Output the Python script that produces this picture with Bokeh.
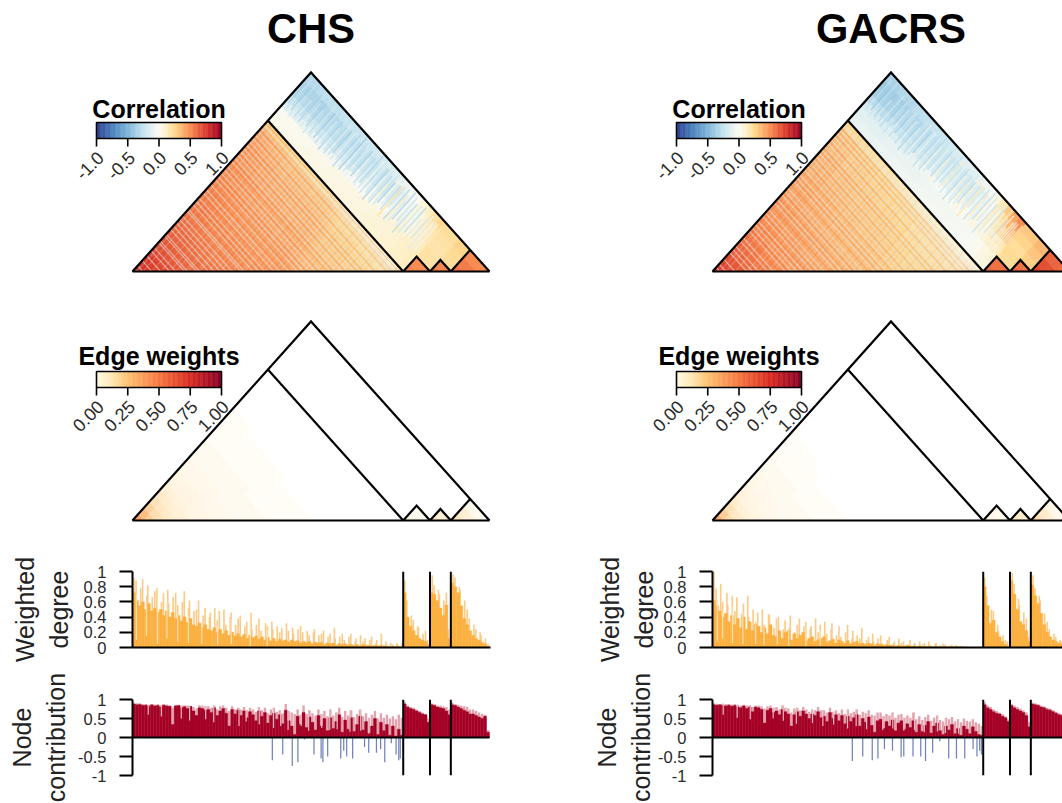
import numpy as np
from bokeh.core.properties import value
from bokeh.embed import file_html
from bokeh.layouts import column, row
from bokeh.models import ColumnDataSource, FixedTicker, LinearAxis, LinearColorMapper, Range1d
from bokeh.plotting import figure
from bokeh.resources import INLINE
from bokeh.transform import transform

FONT = "Liberation Sans"
TITLES = ["CHS", "GACRS"]
MODULE_SIZES = [91, 9, 7, 13]
MODULE_CELLS = [24, 2, 2, 3]

# ---- correlation, in hundredths: upper triangle of the largest module
corr_m1_chs = [
 [82,78,75,72,69,67,64,62,60,58,56,55,54,53,52,51,50,49,48,47,46,44,42,30],
 [77,74,71,68,65,62,60,58,56,55,54,53,52,50,49,48,47,46,45,44,42,40,28],
 [72,69,66,63,61,59,57,55,54,52,51,50,49,48,47,46,45,44,42,40,38,27],
 [68,65,62,60,58,56,54,52,51,50,49,48,47,46,45,43,42,41,39,37,26],
 [64,61,59,57,55,53,51,50,49,48,47,46,45,43,42,41,40,38,36,25],
 [60,58,56,54,52,51,49,48,47,46,45,43,42,41,40,38,36,34,24],
 [58,55,53,52,50,49,47,46,45,44,42,41,40,39,37,36,34,23],
 [56,53,51,50,48,47,45,44,43,42,41,40,38,37,35,33,22],
 [54,51,49,48,46,45,44,43,42,40,39,38,37,35,33,21],
 [52,49,47,46,45,44,42,41,40,39,38,36,35,32,20],
 [50,47,46,44,43,42,41,40,38,37,36,34,32,19],
 [48,46,44,43,42,40,39,38,37,35,33,31,18],
 [46,44,43,41,40,39,38,36,35,33,30,17],
 [43,41,39,38,36,35,34,32,30,27,16],
 [38,36,35,33,32,30,29,27,24,14],
 [36,34,33,32,30,29,27,24,13],
 [34,32,31,30,28,27,23,13],
 [32,30,29,28,26,22,12],
 [30,28,27,25,21,12],
 [28,26,24,20,11],
 [26,23,19,11],
 [23,18,11],
 [20,10],
 [16],
]
corr_m1_gacrs = [
 [76,72,68,64,61,58,55,52,50,48,46,46,44,42,41,40,39,38,37,36,35,34,32,26],
 [70,66,62,59,56,53,51,49,47,46,44,43,42,41,40,39,38,37,36,35,33,31,24],
 [64,60,57,54,52,49,47,46,44,43,42,41,40,39,38,37,36,35,34,32,30,23],
 [58,55,52,50,48,46,44,43,42,41,40,39,38,37,36,34,33,32,30,29,22],
 [54,51,49,47,45,44,43,41,40,39,38,37,36,35,34,33,31,30,28,21],
 [50,48,46,44,43,42,40,39,38,37,36,35,34,33,32,30,29,27,20],
 [47,45,44,42,41,40,38,37,36,35,34,33,32,31,30,28,26,19],
 [45,43,41,40,39,38,36,35,34,33,32,31,30,29,27,25,18],
 [43,41,39,38,37,36,35,34,33,32,31,30,28,27,25,17],
 [41,39,37,36,35,34,33,32,31,30,29,27,26,24,16],
 [39,37,36,35,33,32,31,30,29,28,27,25,23,15],
 [37,36,34,33,32,31,30,29,27,26,24,22,14],
 [36,34,33,32,30,29,28,27,25,23,21,14],
 [35,33,31,30,29,28,26,25,23,21,13],
 [31,29,28,27,25,24,22,20,18,12],
 [29,27,26,25,24,22,20,18,11],
 [27,25,24,23,21,19,17,11],
 [26,24,23,21,19,16,10],
 [24,23,21,19,15,10],
 [23,21,18,14,9],
 [21,18,14,9],
 [19,13,8],
 [16,8],
 [11],
]
# ---- correlation: largest module against the three small ones
corr_cross_chs = [
 [2,1,-14,-18,-32,-34,-30],[2,1,-12,-18,-30,-36,-30],[3,2,-12,-18,-30,-34,-28],
 [3,2,-10,-17,-30,-34,-26],[3,2,-9,-17,-28,-32,-26],[4,2,-8,-16,-28,-31,-26],
 [4,3,-8,-15,-26,-30,-24],[4,3,-7,-16,-26,-28,-24],[4,3,-6,-15,-25,-27,-24],
 [5,4,-5,-14,-24,-28,-22],[5,4,-4,-14,-22,-26,-20],[5,4,-2,-12,-22,-25,-20],
 [6,5,-1,-10,-20,-24,-18],[6,5,0,-8,-18,-22,-18],[7,6,1,-6,-16,-20,-16],
 [7,6,2,-5,-15,-18,-14],[8,7,4,-3,-13,-16,-12],[9,8,6,0,-10,-13,-8],
 [9,8,8,2,-6,-9,-4],[10,9,10,5,-3,-4,0],[10,10,11,8,4,4,7],
 [11,11,12,10,9,10,13],[12,12,13,13,14,16,19],[14,14,15,16,19,21,25],
]
corr_cross_gacrs = [
 [-10,-12,-16,-22,-36,-40,-34],[-10,-12,-16,-24,-36,-38,-34],[-9,-12,-15,-24,-34,-38,-32],
 [-9,-11,-15,-24,-34,-36,-30],[-8,-11,-14,-22,-32,-34,-30],[-8,-10,-14,-22,-30,-32,-28],
 [-8,-10,-12,-20,-28,-30,-26],[-7,-9,-12,-20,-26,-28,-26],[-7,-9,-10,-18,-26,-28,-24],
 [-6,-8,-8,-16,-24,-26,-22],[-6,-8,-6,-15,-22,-24,-20],[-6,-7,-6,-14,-20,-22,-18],
 [-5,-6,-4,-12,-18,-20,-16],[-5,-6,-2,-10,-16,-20,-14],[-4,-5,-2,-8,-15,-18,-12],
 [-4,-5,0,-6,-14,-17,-12],[-4,-5,1,-4,-12,-15,-10],[-3,-4,2,-2,-10,-12,-6],
 [-3,-4,3,1,-5,-8,-2],[-2,-3,4,4,2,2,6],[-2,-2,6,8,10,12,16],
 [1,2,8,12,20,24,30],[4,6,12,16,30,36,42],[6,8,14,20,36,44,50],
]
# ---- correlation: the three small modules
corr_small_chs = [[52,50,20,20,18,20,22],[50,20,20,18,20,22],[55,52,22,24,26],[52,22,24,26],[58,55,50],[55,50],[50]]
corr_small_gacrs = [[60,58,22,24,22,26,30],[58,22,24,22,26,30],[60,58,28,32,36],[58,28,32,36],[72,68,62],[68,62],[60]]

# ---- single nodes of the largest module seen as streaks in the cross block
stripe_chs = [-26,-34,-24,-30,-36,-22,-28,-32,-20,-30,-34,-26,-18,-30,-36,-24,-28,-32,-20,-26,-38,-22,-30,-16,-28,-34,-18,-26,-32,-14,-30,-38,-20,-12,-28,-34,-16,-24,-40,-10,-28,-32,-14,-26,-36,-8,-22,-30,-12,-34,-24,-6,-30,-14,-28,-36,-4,-22,-30,12,-26,-38,6,-18,-30,24,-24,-8,-34,16,-20,-36,4,-28,-14,-32,10,-22,-6,-30,-2,-16,8,-24,-4,-12,6,-8,2,12,14]
stripe_gacrs = [-30,-36,-26,-34,-40,-24,-32,-36,-22,-34,-30,-18,-32,-36,-20,-26,-34,-14,-28,-36,-18,-24,-32,-12,-28,-34,-14,-22,-30,-8,-26,-34,-14,-6,-24,-30,-12,-20,-32,6,-24,-28,-8,-20,-30,10,-18,-26,-6,-28,-16,14,-24,-10,-20,-30,8,-18,-26,14,-20,-30,12,-14,-24,18,-18,-4,-28,16,-14,-30,8,-22,-8,-26,14,-16,-2,-24,4,-10,12,-18,2,-6,10,-2,8,12,14]
pale_nodes_chs = [1,3,6,9,12,14,17,18,21,22,25,27,29,31,33,36,37,40,42,44,47,49,52,55,57,59,61,63,66,68,70,72,74,76,78,80,82,84,86,88]
pale_nodes_gacrs = [2,4,7,11,13,15,18,20,24,26,28,30,33,35,37,41,43,46,48,50,54,56,58,61,63,65,67,69,71,73,75,77,79,81,83,85,87,88]
warm_nodes_chs = [2,5,7,10,13,16,19,23,26,28,30,34,38,41,43,46,50,53,56,58,62,65,67,71,75,77,81,85,87,89]
warm_nodes_gacrs = [1,5,8,10,14,17,19,22,25,29,31,34,39,42,44,47,52,55,57,60,64,68,72,74,78,82,84,86]

# ---- edge weights, in hundredths (only the tinted cells; rows shorter than the module are blank beyond)
edge_m1_chs = [
 [36,28,20,14,10,7,5,4,3,3,2,2,2,1,1,1,1,1],[22,16,12,9,7,5,4,3,3,2,2,2,1,1,1,1,1],
 [13,10,8,6,5,4,3,3,2,2,2,1,1,1,1,1],[9,7,6,5,4,3,3,2,2,2,1,1,1,1],[7,5,4,4,3,3,2,2,2,1,1,1,1],
 [5,4,3,3,3,2,2,2,1,1,1,1],[4,3,3,2,2,2,2,1,1,1,1],[3,3,2,2,2,2,1,1,1,1],[3,2,2,2,1,1,1,1,1],
 [2,2,2,1,1,1,1,1],[2,2,1,1,1,1],[2,1,1,1,1],[1,1,1,1],[1,1,1],[1,1],[1],
]
edge_m1_gacrs = [
 [32,22,14,9,6,5,4,3,2,2,2,1,1,1,1],[16,11,7,5,4,3,3,2,2,1,1,1,1],[9,6,5,4,3,3,2,2,1,1,1,1],
 [5,4,3,3,2,2,2,1,1,1,1],[4,3,3,2,2,2,1,1,1,1],[3,2,2,2,1,1,1,1],[3,2,2,1,1,1],[2,2,1,1,1],
 [2,1,1,1],[1,1,1],[1,1],[1],
]
edge_small_chs = [[3,2],[2],[10,8],[8],[12,8,3],[6,2],[2]]
edge_small_gacrs = [[4,3],[3],[12,9],[9],[16,10,4],[8,3],[3]]

# ---- weighted degree, in hundredths: main mass and thin tips, per module
deg_body_chs = [
 [72,62,55,60,50,58,48,52,46,50,42,48,40,46,38,42,35,40,33,38,30,28,32,26,30,24,22,26,20,24,18,22,16,20,15,18,14,17,12,16,13,15,11,14,10,13,9,12,8,11,9,10,7,10,8,9,6,8,7,8,5,7,6,7,4,6,5,6,3,5,4,5,3,4,3,4,2,4,3,3,2,3,2,3,1,2,1,2,1,1,1],
 [72,40,28,22,16,12,10,8,4],[72,70,62,52,42,56,12],[85,80,72,55,38,30,22,16,12,10,7,5,2]]
deg_tip_chs = [
 [92,88,78,90,68,82,66,74,78,60,72,76,58,66,72,56,60,74,52,62,48,50,62,42,52,40,46,52,36,48,50,30,40,46,30,38,42,28,34,46,24,30,38,22,32,28,34,24,28,20,26,32,22,26,18,24,28,20,22,16,20,24,16,18,22,14,18,26,12,14,18,10,14,18,8,12,16,8,12,10,14,6,10,18,4,8,6,4,6,4,6],
 [88,62,42,36,28,26,18,22,10],[95,82,76,70,62,72,24],[96,92,80,76,62,50,38,30,24,20,16,12,5]]
deg_body_gacrs = [
 [62,55,48,40,45,34,42,30,38,26,40,24,34,22,30,28,20,26,18,30,16,14,22,12,20,22,10,18,12,16,20,9,12,14,8,10,12,14,7,9,11,6,10,8,6,9,5,7,8,5,6,4,6,5,3,5,4,3,4,3,3,2,3,2,2,3,2,2,1,2,1,2,1,1,1,1,1,1,1,1,1,1,1,1,0,0,0,0,0,0,0],
 [80,55,32,36,20,14,8,4,2],[88,70,50,34,30,22,8],[82,68,58,45,30,20,14,10,8,6,4,3,1]]
deg_tip_gacrs = [
 [100,78,84,60,72,56,68,48,66,44,58,68,40,50,34,46,50,30,44,42,26,38,40,24,36,26,42,20,30,38,28,34,24,28,38,20,30,34,18,24,32,16,28,14,20,30,12,22,16,12,26,10,14,18,8,12,16,6,10,14,6,8,12,6,8,4,10,6,4,8,4,6,8,3,5,6,3,5,4,2,4,3,2,2,2,1,1,1,0,0,0],
 [92,68,50,48,30,22,16,10,8],[98,84,64,56,46,38,14],[95,78,68,62,45,34,24,18,14,10,8,5,2]]
deg_notch_nodes_chs = [1.3,4.7,8.4,11.6,15.2,18.8,23.3,28.6,33.2,39.6,45.3]
deg_notch_vals_chs = [10,15,5,12,8,6,5,3,4,2,2]
deg_notch_nodes_gacrs = [1.6,3.4,6.7,10.2,14.5,17.3,21.8,25.6,31.4,36.2]
deg_notch_vals_gacrs = [8,12,6,4,5,3,4,2,2,2]

# ---- node contribution, in hundredths
con_body_chs = [
 [88,86,87,84,85,82,86,83,84,80,85,83,82,34,83,84,78,81,76,82,70,58,78,76,72,74,66,78,58,70,76,64,30,74,62,72,58,70,52,68,60,44,70,56,66,38,58,64,48,60,36,72,44,30,8,56,34,66,26,54,40,20,58,30,50,18,52,24,42,60,14,46,22,52,16,34,56,20,42,12,30,50,8,40,18,34,6,30,4,22,6],
 [88,80,76,74,70,66,62,60,40],[86,84,80,78,76,70,60],[86,84,80,76,72,68,62,62,58,54,50,56,14]]
con_tip_chs = [
 [92,90,90,88,88,86,87,87,88,85,88,87,85,78,86,86,84,85,84,83,80,76,85,84,82,82,78,84,74,82,84,78,70,82,74,78,74,80,72,78,74,68,80,72,78,64,74,78,68,72,64,88,70,66,62,74,60,84,62,72,64,58,74,62,70,56,74,58,66,78,54,70,58,72,54,62,74,56,64,52,60,70,50,64,52,60,50,56,48,60,52],
 [94,84,80,78,74,70,66,62,50],[90,88,84,84,82,80,74],[92,88,86,84,82,80,74,74,70,66,62,60,20]]
con_body_gacrs = [
 [86,85,86,84,83,85,82,84,80,78,83,76,80,68,80,78,74,38,72,76,66,70,60,74,68,62,30,60,68,56,70,62,50,62,58,68,52,56,42,66,50,60,44,58,36,56,42,52,60,30,50,40,54,32,14,44,48,24,42,30,46,18,38,44,22,36,26,44,14,34,16,32,42,12,30,38,18,8,30,20,34,10,24,6,30,22,10,28,16,8,6],
 [86,78,74,68,64,62,56,52,42],[84,78,74,70,66,58,28],[88,86,84,80,78,74,72,68,64,60,58,54,14]]
con_tip_gacrs = [
 [90,89,88,89,88,88,87,88,86,84,86,84,85,80,84,84,82,76,82,84,78,80,74,84,78,76,66,76,78,72,80,74,68,74,72,80,72,72,66,78,68,72,64,74,62,74,64,68,74,60,68,64,72,60,58,66,66,56,62,58,66,52,60,62,52,58,52,66,48,56,46,54,60,44,52,58,46,42,52,48,54,42,48,40,50,44,42,48,40,36,30],
 [92,84,80,74,70,66,62,56,48],[88,84,80,76,72,66,40],[92,90,88,84,82,78,76,72,68,64,62,58,20]]
con_notch_nodes_chs = [5.3,9.7,16.4,19.2,24.6,27.3,35.8,38.2,42.6,47.4,49.8,52.3,56.7,59.2,63.6,66.3,68.8,73.1,76.7,79.4]
con_notch_vals_chs = [60,55,50,45,48,40,30,42,35,25,30,20,30,18,25,20,22,15,18,10]
con_notch_nodes_gacrs = [3.6,8.3,12.7,20.4,23.8,28.2,33.6,37.1,40.7,45.4,48.3,51.8,57.2,60.6,64.3,67.9,71.2,75.6,78.3,82.7]
con_notch_vals_gacrs = [60,52,48,50,44,36,38,30,34,24,30,22,20,24,18,20,14,16,12,10]
neg_nodes_chs = [47,50.5,53.7,55.6,57.8,61,63.4,64,65.6,70,71,72,74,78,79.4,82,83.4,84.8,87,88.6,89.5,90]
neg_vals_chs = [-60,-45,-75,-65,-5,-45,-55,-65,-50,-55,-35,-50,-55,-25,-40,-40,-30,-65,-15,-45,-60,-55]
neg_nodes_gacrs = [47,50.5,53.7,55.6,57.8,60.5,63.4,64.3,67.4,70,71.6,74,76.4,79.4,82,84.8,87.6,88.9,89.8,90.4]
neg_vals_gacrs = [-62,-50,-60,-55,-30,-35,-52,-50,-50,-50,-62,-40,-10,-55,-55,-55,-30,-50,-35,-45]

DEG_TICKS = [0, 0.2, 0.4, 0.6, 0.8, 1]
DEG_LABELS = ["0", "0.2", "0.4", "0.6", "0.8", "1"]
CON_TICKS = [-1, -0.5, 0, 0.5, 1]
CON_LABELS = ["-1", "-0.5", "0", "0.5", "1"]
CORR_LEG = [-1.0, -0.5, 0.0, 0.5, 1.0]
CORR_LEG_TXT = ["-1.0", "-0.5", "0.0", "0.5", "1.0"]
EDGE_LEG = [0.0, 0.25, 0.5, 0.75, 1.0]
EDGE_LEG_TXT = ["0.00", "0.25", "0.50", "0.75", "1.00"]
TIP_SHIFT = [0.0, -0.3, 0.25, -0.1, 0.35, -0.35, 0.15]
STRIPE_START = [0, 2, -1, 3, 1, -2, 4, 0, -1, 2]
STRIPE_END = [0, -3, 1, -1, -4, 2, -2, 1, -5, -1, 0]

for group in (deg_body_chs, deg_tip_chs, deg_body_gacrs, deg_tip_gacrs, con_body_chs, con_tip_chs, con_body_gacrs, con_tip_gacrs):
    assert [len(g) for g in group] == MODULE_SIZES, [len(g) for g in group]
assert len(stripe_chs) == 91 and len(stripe_gacrs) == 91, (len(stripe_chs), len(stripe_gacrs))

# ---- colours
def ramp(stops, n=256):
    pos = [s[0] for s in stops]
    rgb = np.array([[int(s[1][k:k+2], 16) for k in (1, 3, 5)] for s in stops], float)
    t = np.linspace(pos[0], pos[-1], n)
    return ["#%02x%02x%02x" % tuple(int(round(np.interp(v, pos, rgb[:, c]))) for c in range(3)) for v in t]

corr_pal = ramp([(-1, "#2b3f92"), (-.75, "#4a7fbb"), (-.5, "#7db5d8"), (-.25, "#c5e3ef"), (-.05, "#f3f7f2"), (0, "#fafaf4"),
                 (.1, "#fdf3d2"), (.25, "#fed98e"), (.5, "#f98e52"), (.75, "#dc3b2c"), (1, "#9b0026")])
edge_key_pal = ramp([(0, "#fffbe2"), (.12, "#fee8b4"), (.25, "#fdc171"), (.5, "#f6773f"), (.75, "#d92b20"), (1, "#870025")])
edge_cell_pal = ramp([(0, "#fffffc"), (.02, "#fffaf0"), (.08, "#ffefd2"), (.25, "#fdc78a"), (.5, "#f6773f"), (.75, "#d92b20"), (1, "#870025")], 512)
corr_map = LinearColorMapper(palette=corr_pal, low=-1, high=1)
edge_key_map = LinearColorMapper(palette=edge_key_pal, low=0, high=1)
edge_cell_map = LinearColorMapper(palette=edge_cell_pal, low=0, high=1)

# ---- page geometry (window pixels)
NODES = sum(MODULE_SIZES)
PX_NODE = 357 / NODES
PY_NODE = 199 / NODES
BOUNDS = np.cumsum([0] + MODULE_SIZES)
EDGES = np.concatenate([np.linspace(BOUNDS[k], BOUNDS[k + 1], MODULE_CELLS[k] + 1)[(0 if k == 0 else 1):] for k in range(4)])

def tx(i, j):
    return (np.asarray(i, float) + np.asarray(j, float)) / 2

def ty(i, j):
    return np.asarray(j, float) - np.asarray(i, float)

def cell_source(rows):
    xs, ys, vs = [], [], []
    for a, vals in rows:
        for off, v in enumerate(vals):
            b = a + off
            i0, i1, j0, j1 = EDGES[a], EDGES[a + 1], EDGES[b], EDGES[b + 1]
            if a == b:
                pi, pj = [i0, i1, i0], [i0, i1, i1]
            else:
                pi, pj = [i0, i1, i1, i0], [j0, j0, j1, j1]
            xs.append(list(tx(pi, pj)))
            ys.append(list(ty(pi, pj)))
            vs.append(v / 100)
    return ColumnDataSource(dict(xs=xs, ys=ys, v=vs))

def outline(p):
    b = BOUNDS
    xs, ys = [], []
    paths = [[(0, 0), (0, NODES), (NODES, NODES)], [(0, 0), (NODES, NODES)], [(0, b[1]), (b[1], b[1])]]
    for k in (1, 2):
        paths.append([(b[k], b[k]), (b[k], b[k + 1]), (b[k + 1], b[k + 1])])
    paths.append([(b[3], b[3]), (b[3], b[4])])
    for path in paths:
        xs.append(list(tx(*zip(*path))))
        ys.append(list(ty(*zip(*path))))
    p.multi_line(xs, ys, line_color="black", line_width=2.2, line_join="miter")

def tri_figure(px_left, px_right, px_top, px_bottom, px_base, px_start):
    x_rng = Range1d((px_left - px_start) / PX_NODE, (px_right - px_start) / PX_NODE)
    y_rng = Range1d((px_base - px_bottom) / PY_NODE, (px_base - px_top) / PY_NODE)
    p = figure(width=px_right - px_left, height=px_bottom - px_top, x_range=x_rng, y_range=y_rng,
               output_backend="svg", toolbar_location=None, x_axis_type=None, y_axis_type=None,
               min_border=0, outline_line_color=None, background_fill_color="white", border_fill_color="white",
               frame_align=False)
    p.grid.visible = False
    p.extra_y_ranges["px"] = Range1d(px_bottom, px_top)
    return p

def add_legend(p, fig_left, fig_right, offset, mapper, lo, hi, title, ticks, texts, cb_top, title_y):
    # colour key with its own scale: lo sits at offset+96 px, hi at offset+221 px
    span = (hi - lo) / 125
    p.extra_x_ranges["key"] = Range1d(lo + (fig_left - (offset + 96)) * span, lo + (fig_right - (offset + 96)) * span)
    steps = np.linspace(lo, hi, 101)
    src = ColumnDataSource(dict(left=steps[:-1], right=steps[1:], v=(steps[:-1] + steps[1:]) / 2))
    cm = transform("v", mapper)
    p.quad(left="left", right="right", top=cb_top, bottom=cb_top + 16, source=src, fill_color=cm, line_color=cm,
           line_width=0.5, x_range_name="key", y_range_name="px")
    p.quad(left=[lo], right=[hi], top=[cb_top], bottom=[cb_top + 16], fill_color=None, line_color="black",
           line_width=1.6, x_range_name="key", y_range_name="px")
    p.segment(x0=ticks, x1=ticks, y0=[cb_top + 16] * len(ticks), y1=[cb_top + 24] * len(ticks), line_color="black",
              line_width=1.6, x_range_name="key", y_range_name="px")
    p.text(x=ticks, y=[cb_top + 32] * len(ticks), text=texts, text_font=value(FONT), text_font_size="18px",
           text_color="#2a2a2a", text_align="right", text_baseline="middle", angle=45, angle_units="deg",
           x_offset=4, x_range_name="key", y_range_name="px")
    p.text(x=[(lo + hi) / 2], y=[title_y], text=[title], text_font=value(FONT), text_font_size="25px",
           text_font_style="bold", text_color="black", text_align="center", text_baseline="middle",
           x_range_name="key", y_range_name="px")

def corr_panel(idx, px_left, px_right, offset, rows_m1, rows_cross, rows_small, stripes, pale, warm):
    p = tri_figure(px_left, px_right, 0, 290, 271, offset + 132)
    rows = []
    for a in range(24):
        rows.append((a, rows_m1[a] + rows_cross[a]))
    for k, vals in enumerate(rows_small):
        rows.append((24 + k, vals))
    cm = transform("v", corr_map)
    p.patches("xs", "ys", source=cell_source(rows), fill_color=cm, line_color=cm, line_width=0.7)
    m1 = BOUNDS[1]
    # streaks of single nodes
    sn = np.arange(len(stripes)) + 0.5
    j0 = np.array([101 + STRIPE_START[k % len(STRIPE_START)] for k in range(len(stripes))])
    j1 = np.array([117 + STRIPE_END[k % len(STRIPE_END)] for k in range(len(stripes))])
    ss = ColumnDataSource(dict(x0=tx(sn, j0), y0=ty(sn, j0), x1=tx(sn, j1), y1=ty(sn, j1), v=np.array(stripes) / 100))
    p.segment("x0", "y0", "x1", "y1", source=ss, line_color=cm, line_width=1.6, line_alpha=0.7)
    for nodes, colour, alpha in ((pale, "#e6e4dc", 0.6), (warm, "#e8562a", 0.2)):
        n = np.array(nodes) + 0.5
        p.segment(tx(n, n), ty(n, n), tx(n, m1), ty(n, m1), line_color=colour, line_alpha=alpha * 0.4, line_width=1.2)
        p.segment(tx(n, n), ty(n, n), tx(0 * n, n), ty(0 * n, n), line_color=colour, line_alpha=alpha, line_width=1.2)
    outline(p)
    add_legend(p, px_left, px_right, offset, corr_map, -1, 1, "Correlation", CORR_LEG, CORR_LEG_TXT, 122, 108)
    p.text(x=[NODES / 2], y=[28], text=[TITLES[idx]], text_font=value(FONT), text_font_size="41.6px",
           text_font_style="bold", text_color="black", text_align="center", text_baseline="middle", y_range_name="px")
    return p

def edge_panel(px_left, px_right, offset, rows_m1, rows_small):
    p = tri_figure(px_left, px_right, 290, 530, 520, offset + 132)
    rows = [(a, vals) for a, vals in enumerate(rows_m1)]
    rows += [(24 + k, vals) for k, vals in enumerate(rows_small)]
    cm = transform("v", edge_cell_map)
    p.patches("xs", "ys", source=cell_source(rows), fill_color=cm, line_color=cm, line_width=0.7)
    outline(p)
    add_legend(p, px_left, px_right, offset, edge_key_map, 0, 1, "Edge weights", EDGE_LEG, EDGE_LEG_TXT, 371, 355)
    return p

def bar_figure(px_left, px_right, frame_left, frame_right, height, top, bottom, y0, y1, ticks, labels, label, standoff):
    x_rng = Range1d(0, (frame_right - frame_left) / PX_NODE)
    p = figure(width=px_right - px_left, height=height, x_range=x_rng, y_range=Range1d(y0, y1),
               output_backend="svg", toolbar_location=None, x_axis_type=None, y_axis_type=None,
               min_border_left=frame_left - px_left, min_border_right=px_right - frame_right,
               min_border_top=top, min_border_bottom=bottom, outline_line_color=None, frame_align=False)
    p.grid.visible = False
    ax = LinearAxis(ticker=FixedTicker(ticks=ticks), major_label_overrides={t: s for t, s in zip(ticks, labels)})
    ax.axis_line_color = "black"
    ax.axis_line_width = 2
    ax.major_tick_line_color = "black"
    ax.major_tick_line_width = 2
    ax.major_tick_out = 13
    ax.major_tick_in = 0
    ax.minor_tick_line_color = None
    ax.major_label_text_font = FONT
    ax.major_label_text_font_size = "16.5px"
    ax.major_label_text_color = "#2a2a2a"
    ax.major_label_standoff = 13
    ax.axis_label = label
    ax.axis_label_text_font = FONT
    ax.axis_label_text_font_style = "normal"
    ax.axis_label_text_font_size = "25px"
    ax.axis_label_text_color = "#222222"
    ax.axis_label_standoff = standoff
    p.add_layout(ax, "left")
    return p

def flat(groups, scale=100):
    return np.concatenate(groups) / scale

def tip_positions():
    n = np.arange(NODES) + 0.5
    return n + np.array([TIP_SHIFT[k % len(TIP_SHIFT)] for k in range(NODES)])

def degree_panel(px_left, px_right, frame_left, frame_right, body, tip, notch_n, notch_v, standoff):
    p = bar_figure(px_left, px_right, frame_left, frame_right, 138, 41, 21, 0, 1, DEG_TICKS, DEG_LABELS, "Weighted\ndegree", standoff)
    n = np.arange(NODES) + 0.5
    tips = flat(tip)
    p.vbar(x=tip_positions(), top=tips, bottom=0, width=0.55, fill_color="#fbcb86", line_color=None)
    p.vbar(x=n, top=flat(body), bottom=0, width=1, fill_color="#fbb040", line_color="#fbb040", line_width=0.4)
    idx = np.array(notch_n).astype(int)
    p.vbar(x=notch_n, top=np.maximum(flat(body)[idx], tips[idx] * 0.8), bottom=np.array(notch_v) / 100, width=0.4, fill_color="#fde0b2", line_color=None)
    seps = [float(b) for b in BOUNDS[1:4]]
    p.segment(x0=seps, x1=seps, y0=[0] * 3, y1=[1] * 3, line_color="black", line_width=2)
    base = LinearAxis(ticker=FixedTicker(ticks=[]), major_label_text_font_size="0px")
    base.axis_line_color = "black"
    base.axis_line_width = 2
    base.major_tick_line_color = None
    base.minor_tick_line_color = None
    p.add_layout(base, "below")
    return p

def contrib_panel(px_left, px_right, frame_left, frame_right, body, tip, notch_n, notch_v, neg_n, neg_v, standoff):
    p = bar_figure(px_left, px_right, frame_left, frame_right, 135, 31, 28, -1, 1, CON_TICKS, CON_LABELS, "Node\ncontribution", standoff)
    n = np.arange(NODES) + 0.5
    tips = flat(tip)
    p.vbar(x=n, top=tips, bottom=0, width=0.8, fill_color="#e3a3ae", line_color=None)
    p.vbar(x=n, top=flat(body), bottom=0, width=1, fill_color="#a50026", line_color="#a50026", line_width=0.4)
    idx = np.array(notch_n).astype(int)
    p.vbar(x=notch_n, top=tips[idx], bottom=np.array(notch_v) / 100, width=0.4, fill_color="#eab8c0", line_color=None)
    p.vbar(x=neg_n, top=0, bottom=np.array(neg_v) / 100, width=0.42, fill_color="#7282bd", line_color=None)
    seps = [float(b) for b in BOUNDS[1:4]]
    p.segment(x0=seps, x1=seps, y0=[-1] * 3, y1=[1] * 3, line_color="black", line_width=2)
    p.segment(x0=[0], x1=[NODES], y0=[0], y1=[0], line_color="black", line_width=2)
    return p

left = column(
    corr_panel(0, 0, 590, 0, corr_m1_chs, corr_cross_chs, corr_small_chs, stripe_chs, pale_nodes_chs, warm_nodes_chs),
    edge_panel(0, 590, 0, edge_m1_chs, edge_small_chs),
    degree_panel(0, 590, 132, 490, deg_body_chs, deg_tip_chs, deg_notch_nodes_chs, deg_notch_vals_chs, 8),
    contrib_panel(0, 590, 132, 490, con_body_chs, con_tip_chs, con_notch_nodes_chs, con_notch_vals_chs, neg_nodes_chs, neg_vals_chs, 5),
    spacing=0)
right = column(
    corr_panel(1, 590, 1062, 580, corr_m1_gacrs, corr_cross_gacrs, corr_small_gacrs, stripe_gacrs, pale_nodes_gacrs, warm_nodes_gacrs),
    edge_panel(590, 1062, 580, edge_m1_gacrs, edge_small_gacrs),
    degree_panel(590, 1062, 712, 1062, deg_body_gacrs, deg_tip_gacrs, deg_notch_nodes_gacrs, deg_notch_vals_gacrs, 3),
    contrib_panel(590, 1062, 712, 1062, con_body_gacrs, con_tip_gacrs, con_notch_nodes_gacrs, con_notch_vals_gacrs, neg_nodes_gacrs, neg_vals_gacrs, 0),
    spacing=0)
page = row(left, right, spacing=0)
open("out.html", "w").write(file_html(page, INLINE))
